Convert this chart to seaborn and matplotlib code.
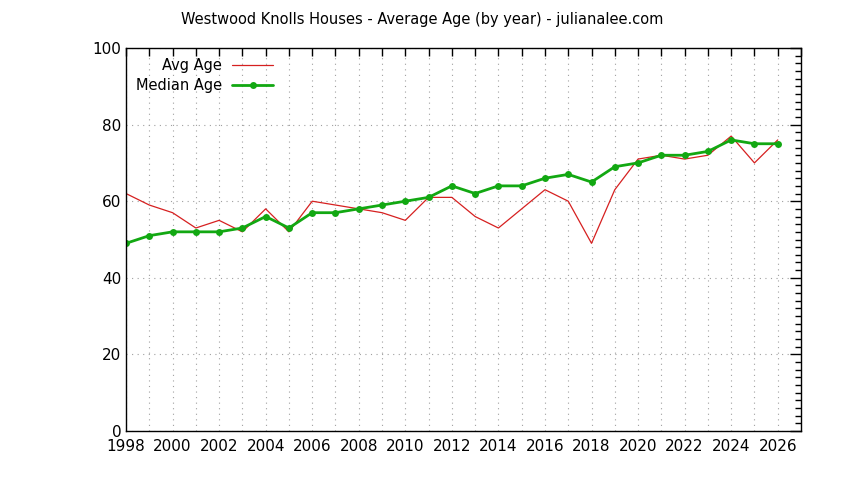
import matplotlib
matplotlib.use("Agg")
import matplotlib.pyplot as plt
from matplotlib.ticker import MultipleLocator, FuncFormatter
import pandas as pd
import seaborn as sns

# values
years = list(range(1998, 2027))
avg_age = [62, 59, 57, 53, 55, 52, 58, 52, 60, 59, 58, 57, 55, 61, 61,
           56, 53, 58, 63, 60, 49, 63, 71, 72, 71, 72, 77, 70, 76]
median_age = [49, 51, 52, 52, 52, 53, 56, 53, 57, 57, 58, 59, 60, 61, 64,
              62, 64, 64, 66, 67, 65, 69, 70, 72, 72, 73, 76, 75, 75]

df = pd.DataFrame({"year": years, "Avg Age": avg_age, "Median Age": median_age})

sns.set_style("white")
plt.rcParams["font.family"] = ["DejaVu Sans"]
plt.rcParams["font.size"] = 10
plt.rcParams["text.color"] = "black"
plt.rcParams["xtick.labelcolor"] = "black"
plt.rcParams["ytick.labelcolor"] = "black"

fig = plt.figure(figsize=(8.44, 4.8), dpi=100)
ax = fig.add_axes([126 / 844, 1 - 431 / 480, (801 - 126) / 844, (431 - 48) / 480])

sns.lineplot(data=df, x="year", y="Avg Age", ax=ax, color="#d62020",
             linewidth=0.9, label="Avg Age")
sns.lineplot(data=df, x="year", y="Median Age", ax=ax, color="#12a812",
             linewidth=2, marker="o", markersize=5, markeredgewidth=0,
             label="Median Age")

ax.set_xlim(1998, 2027)
ax.set_ylim(0, 100)
# tick every year, label every second year
ax.xaxis.set_major_locator(MultipleLocator(1))
ax.xaxis.set_major_formatter(FuncFormatter(lambda v, p: f"{int(v)}" if int(v) % 2 == 0 else ""))
ax.yaxis.set_major_locator(MultipleLocator(20))
ax.yaxis.set_minor_locator(MultipleLocator(2))
ax.tick_params(which="both", direction="in", top=True, right=True,
               labelsize=11, color="black")
ax.tick_params(which="major", length=6, width=1)
ax.tick_params(axis="y", which="major", length=8)
ax.tick_params(which="minor", length=4, width=1)
ax.tick_params(axis="x", pad=6)

ax.grid(which="major", axis="x", color="#a0a0a0", linestyle=(0, (1, 4)), linewidth=0.8)
ax.grid(which="major", axis="y", color="#a0a0a0", linestyle=(0, (1, 4)), linewidth=0.8)
ax.set_axisbelow(True)
for s in ax.spines.values():
    s.set_color("black")
    s.set_linewidth(1)

ax.set_xlabel("")
ax.set_ylabel("")

ax.legend(loc="upper right", markerfirst=False, frameon=False, fontsize=10.5,
          handlelength=2.8, handletextpad=0.7, labelspacing=0.35,
          bbox_to_anchor=((273 - 126) / 675, (431 - 58) / 383),
          borderaxespad=0, borderpad=0)

fig.suptitle("Westwood Knolls Houses - Average Age (by year) - julianalee.com",
             x=0.5, y=0.975, fontsize=10.5)

fig.savefig("out.png", dpi=100)
